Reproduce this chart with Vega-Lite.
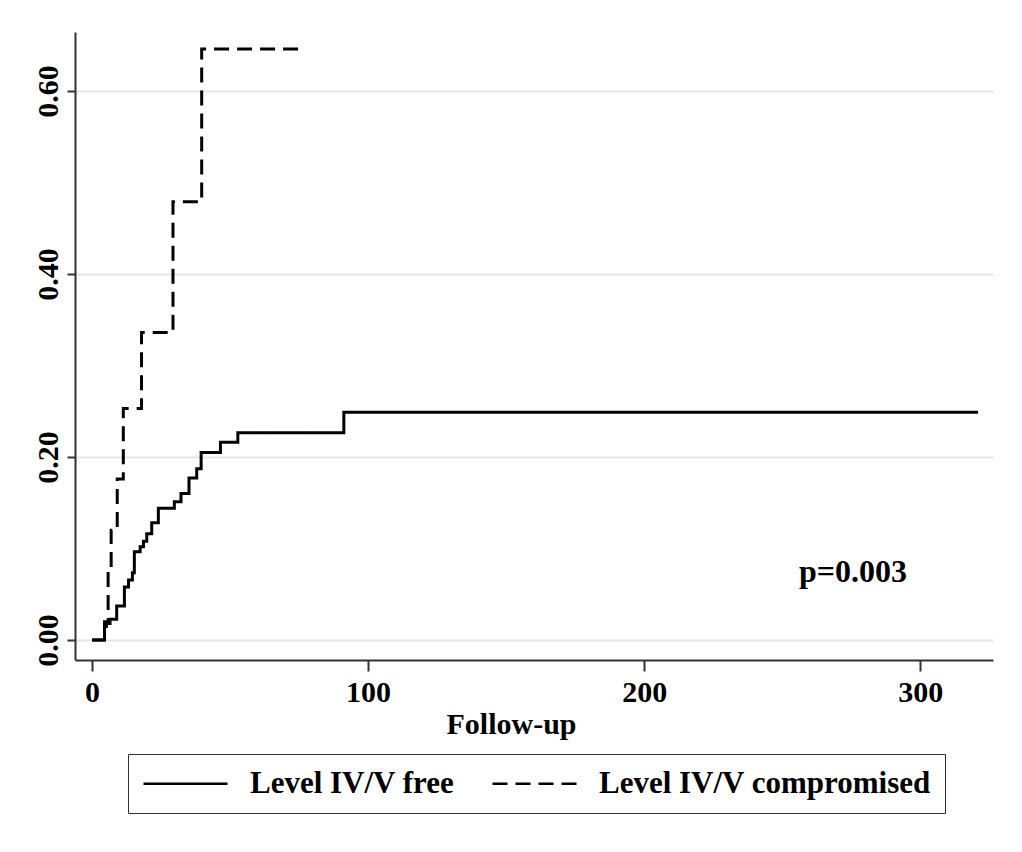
{
  "$schema": "https://vega.github.io/schema/vega-lite/v6.json",
  "autosize": "none",
  "width": 918,
  "height": 628,
  "padding": {"left": 75, "top": 32, "right": 29, "bottom": 192},
  "background": "white",
  "config": {
    "view": {"stroke": null},
    "font": "Liberation Serif",
    "axis": {
      "labelFont": "Liberation Serif",
      "labelFontWeight": "bold",
      "labelFontSize": 30,
      "labelColor": "black",
      "titleFont": "Liberation Serif",
      "titleFontWeight": "bold",
      "titleFontSize": 30,
      "titleColor": "black",
      "domainColor": "#333333",
      "domainWidth": 2,
      "tickColor": "#333333",
      "tickWidth": 2
    },
    "legend": {
      "labelFont": "Liberation Serif",
      "labelFontWeight": "bold",
      "labelFontSize": 31,
      "labelColor": "black",
      "labelLimit": 600
    }
  },
  "datasets": {
    "curves": [
      {"group": "Level IV/V free", "time": 0, "value": 0},
      {"group": "Level IV/V free", "time": 4.5, "value": 0.0146},
      {"group": "Level IV/V free", "time": 5.2, "value": 0.018},
      {"group": "Level IV/V free", "time": 6.5, "value": 0.0226},
      {"group": "Level IV/V free", "time": 8.9, "value": 0.037},
      {"group": "Level IV/V free", "time": 11.7, "value": 0.058},
      {"group": "Level IV/V free", "time": 13.2, "value": 0.0656},
      {"group": "Level IV/V free", "time": 14.6, "value": 0.0736},
      {"group": "Level IV/V free", "time": 15.3, "value": 0.0965},
      {"group": "Level IV/V free", "time": 17.4, "value": 0.102},
      {"group": "Level IV/V free", "time": 18.6, "value": 0.108},
      {"group": "Level IV/V free", "time": 19.8, "value": 0.116},
      {"group": "Level IV/V free", "time": 21.6, "value": 0.128},
      {"group": "Level IV/V free", "time": 24.0, "value": 0.144},
      {"group": "Level IV/V free", "time": 29.8, "value": 0.151},
      {"group": "Level IV/V free", "time": 32.2, "value": 0.16},
      {"group": "Level IV/V free", "time": 35.1, "value": 0.177},
      {"group": "Level IV/V free", "time": 37.9, "value": 0.187},
      {"group": "Level IV/V free", "time": 39.5, "value": 0.205},
      {"group": "Level IV/V free", "time": 46.5, "value": 0.216},
      {"group": "Level IV/V free", "time": 52.8, "value": 0.2266},
      {"group": "Level IV/V free", "time": 91.2, "value": 0.249},
      {"group": "Level IV/V free", "time": 321, "value": 0.249},
      {"group": "Level IV/V compromised", "time": 0, "value": 0},
      {"group": "Level IV/V compromised", "time": 4.5, "value": 0.02},
      {"group": "Level IV/V compromised", "time": 5.8, "value": 0.0765},
      {"group": "Level IV/V compromised", "time": 6.9, "value": 0.12},
      {"group": "Level IV/V compromised", "time": 9.1, "value": 0.176},
      {"group": "Level IV/V compromised", "time": 11.3, "value": 0.253},
      {"group": "Level IV/V compromised", "time": 17.9, "value": 0.336},
      {"group": "Level IV/V compromised", "time": 29.3, "value": 0.479},
      {"group": "Level IV/V compromised", "time": 39.7, "value": 0.646},
      {"group": "Level IV/V compromised", "time": 76, "value": 0.646}
    ],
    "annot": [{"label": "p=0.003", "time": 275.7, "value": 0.074}]
  },
  "layer": [
    {
      "data": {"name": "curves"},
      "mark": {"type": "line", "interpolate": "step-after", "strokeWidth": 3, "color": "black"},
      "encoding": {
        "x": {
          "field": "time", "type": "quantitative",
          "scale": {"domain": [-6.2, 326.4], "nice": false, "zero": false},
          "axis": {
            "values": [0, 100, 200, 300], "format": "d", "grid": false,
            "tickSize": 11, "labelPadding": 6, "title": "Follow-up", "titlePadding": 2,
            "titleX": 436, "titleAlign": "center", "titleAnchor": null,
            "labelFlush": false
          }
        },
        "y": {
          "field": "value", "type": "quantitative",
          "scale": {"domain": [-0.0219, 0.6645], "nice": false, "zero": false},
          "axis": {
            "values": [0, 0.2, 0.4, 0.6], "format": ".2f", "title": null,
            "grid": true, "gridColor": "#e6e6e6", "gridWidth": 2,
            "tickSize": 8, "labelAngle": -90, "labelAlign": "center",
            "labelBaseline": "alphabetic", "labelPadding": 10, "labelFlush": false
          }
        },
        "strokeDash": {
          "field": "group", "type": "nominal",
          "scale": {"domain": ["Level IV/V free", "Level IV/V compromised"], "range": [[1, 0], [15, 8]]},
          "legend": {
            "title": null, "orient": "none", "direction": "horizontal",
            "legendX": 53, "legendY": 722,
            "symbolType": "M-3,0H3", "symbolSize": 784, "symbolOffset": 28,
            "symbolStrokeWidth": 2.5, "symbolStrokeColor": "black", "symbolFillColor": "transparent",
            "labelOffset": 49, "columnPadding": 32, "padding": 14,
            "strokeColor": "#333333", "fillColor": "white"
          }
        }
      }
    },
    {
      "data": {"name": "annot"},
      "mark": {"type": "text", "font": "Liberation Serif", "fontWeight": "bold", "fontSize": 32, "color": "black", "align": "center", "baseline": "middle"},
      "encoding": {
        "x": {"field": "time", "type": "quantitative"},
        "y": {"field": "value", "type": "quantitative"},
        "text": {"field": "label"}
      }
    }
  ]
}
